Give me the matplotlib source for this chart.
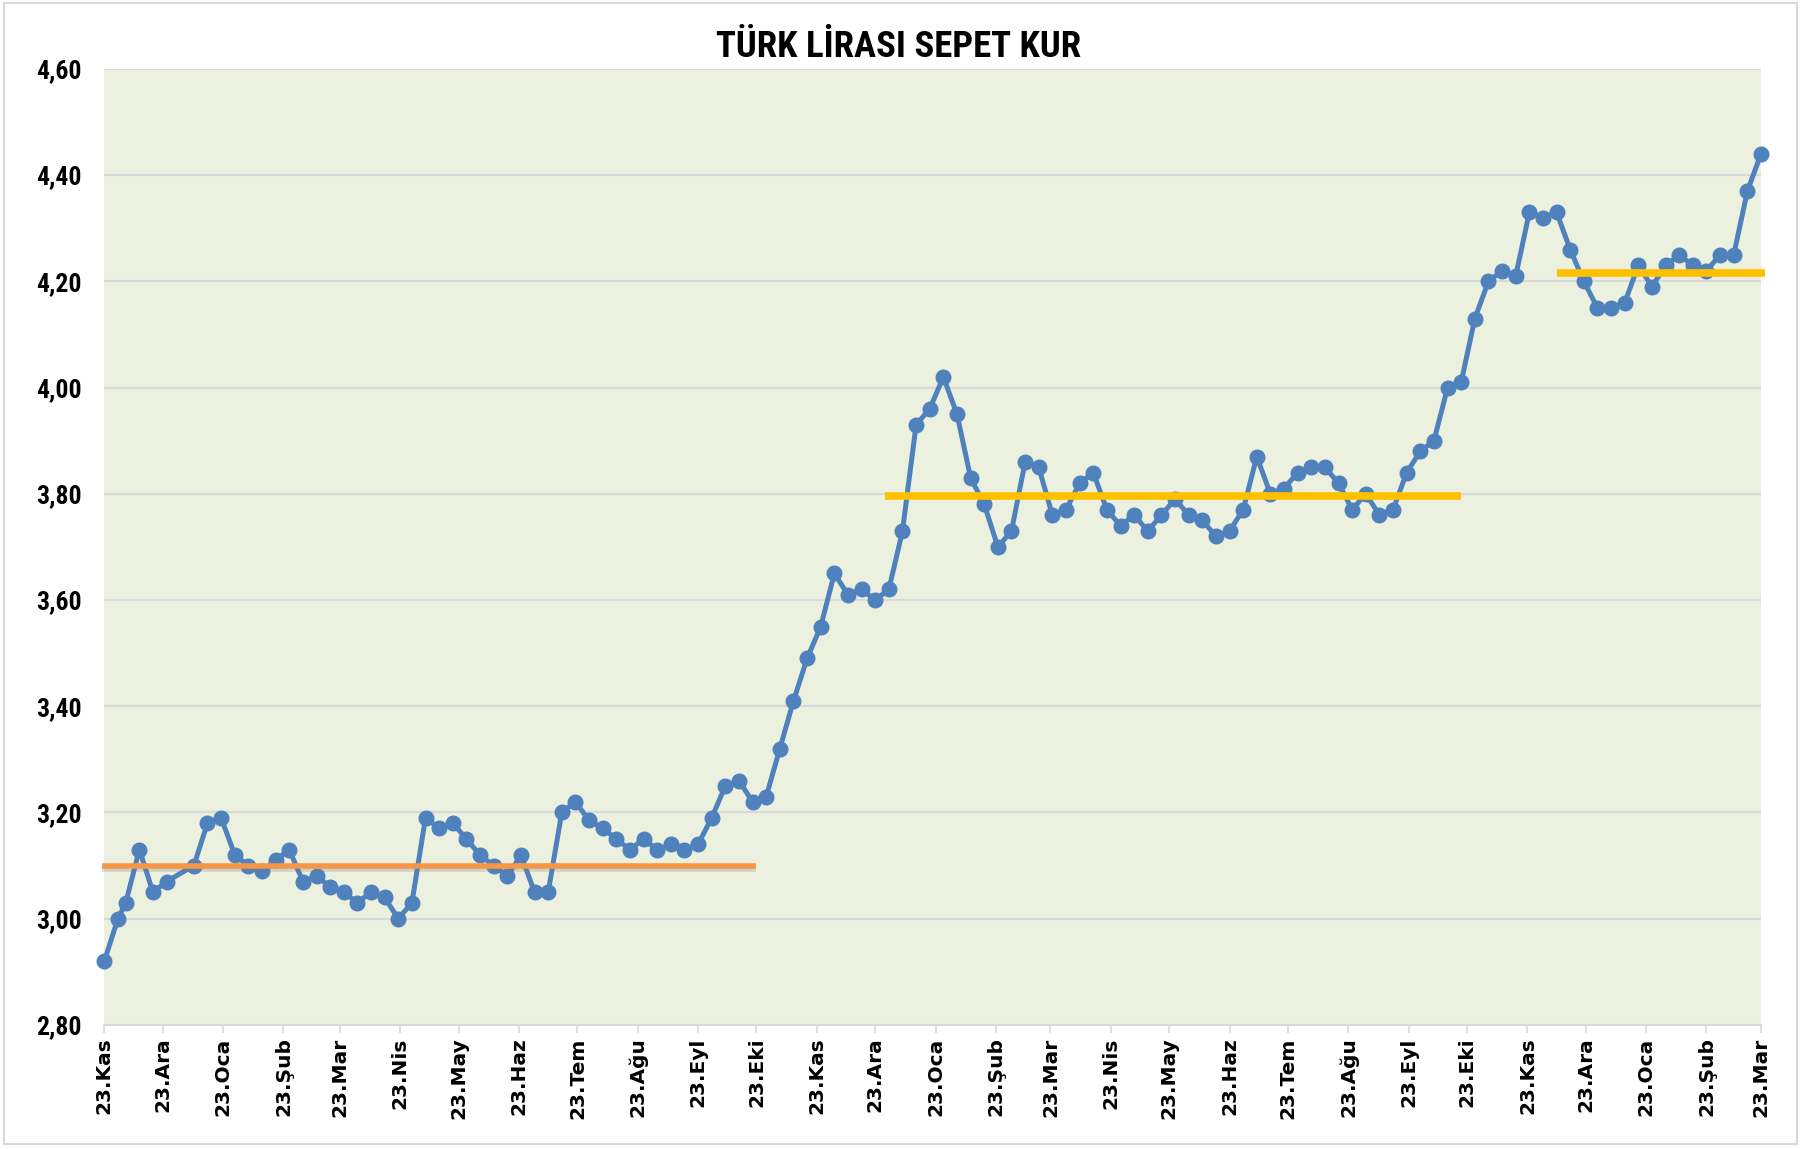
import numpy as np
import pandas as pd
import matplotlib
matplotlib.use("Agg")
import matplotlib.pyplot as plt
import matplotlib.patheffects as pe
from matplotlib.ticker import FuncFormatter, MultipleLocator
from matplotlib.patches import Rectangle
from matplotlib import font_manager

# --- weekly TL basket rate (two Mondays, then Fridays; 1 Jan 2016 missing)
first_days = ["2015-11-23", "2015-11-30"]
fridays = pd.date_range("2015-12-04", "2018-03-23", freq="W-FRI")
fridays = fridays[fridays != pd.Timestamp("2016-01-01")]
dates = pd.DatetimeIndex(pd.to_datetime(first_days)).append(fridays)

kur = [2.92, 3.00, 3.03, 3.13, 3.05, 3.07, 3.10, 3.18, 3.19, 3.12,
       3.10, 3.09, 3.11, 3.13, 3.07, 3.08, 3.06, 3.05, 3.03, 3.05,
       3.04, 3.00, 3.03, 3.19, 3.17, 3.18, 3.15, 3.12, 3.10, 3.08,
       3.12, 3.05, 3.05, 3.20, 3.22, 3.185, 3.17, 3.15, 3.13, 3.15,
       3.13, 3.14, 3.13, 3.14, 3.19, 3.25, 3.26, 3.22, 3.23, 3.32,
       3.41, 3.49, 3.55, 3.65, 3.61, 3.62, 3.60, 3.62, 3.73, 3.93,
       3.96, 4.02, 3.95, 3.83, 3.78, 3.70, 3.73, 3.86, 3.85, 3.76,
       3.77, 3.82, 3.84, 3.77, 3.74, 3.76, 3.73, 3.76, 3.79, 3.76,
       3.75, 3.72, 3.73, 3.77, 3.87, 3.80, 3.81, 3.84, 3.85, 3.85,
       3.82, 3.77, 3.80, 3.76, 3.77, 3.84, 3.88, 3.90, 4.00, 4.01,
       4.13, 4.20, 4.22, 4.21, 4.33, 4.32, 4.33, 4.26, 4.20, 4.15,
       4.15, 4.16, 4.23, 4.19, 4.23, 4.25, 4.23, 4.22, 4.25, 4.25,
       4.37, 4.44]

# --- period averages (horizontal bars)
ort_bas = ["2015-11-22", "2016-12-28", "2017-12-08"]
ort_bit = ["2016-10-23", "2017-10-20", "2018-03-25"]
ort_deger = [3.10, 3.795, 4.215]
ort_renk = ["#F79646", "#FFC000", "#FFC000"]

aylar = ["Oca", "Şub", "Mar", "Nis", "May", "Haz",
         "Tem", "Ağu", "Eyl", "Eki", "Kas", "Ara"]
tick_dates = pd.date_range("2015-11-23", "2018-03-23", freq=pd.DateOffset(months=1))
tick_labels = ["23." + aylar[d.month - 1] for d in tick_dates]

# narrow font for title / y labels if one is around
names = {f.name for f in font_manager.fontManager.ttflist}
narrow = "DejaVu Sans"
stretch = "normal"
for cand in ["Liberation Sans Narrow", "Roboto Condensed", "Open Sans Condensed"]:
    if cand in names:
        narrow = cand
        break
else:
    stretch = "condensed"

fig = plt.figure(figsize=(18.08, 11.49), dpi=100)
ax = fig.add_axes([0.0577, 0.108, 0.9163, 0.832])
ax.set_facecolor("#EBF1DE")

ax.plot(dates, kur, color="#4F81BD", lw=3.6, marker="o", ms=10.5,
        zorder=3, clip_on=False)

for b, s, v, c in zip(ort_bas, ort_bit, ort_deger, ort_renk):
    effects = [pe.Normal()]
    lw = 5.5
    if c == "#F79646":
        lw = 4
        effects = [pe.SimpleLineShadow(offset=(0, -2.5), shadow_color="#777777", alpha=0.25),
                   pe.Normal()]
    ax.plot([pd.Timestamp(b), pd.Timestamp(s)], [v, v], color=c, lw=lw,
            solid_capstyle="butt", zorder=4, clip_on=False, path_effects=effects)

ax.set_ylim(2.8, 4.6)
ax.yaxis.set_major_locator(MultipleLocator(0.2))
ax.yaxis.set_major_formatter(FuncFormatter(lambda v, p: f"{v:.2f}".replace(".", ",")))
ax.set_xlim(pd.Timestamp("2015-11-23"), pd.Timestamp("2018-03-23"))
ax.set_xticks(tick_dates)
ax.set_xticklabels(tick_labels, rotation=90, fontweight="bold", fontsize=14.5,
                   family="DejaVu Sans")
for t in ax.get_yticklabels():
    t.set_fontweight("bold")
    t.set_fontsize(18.5)
    t.set_family(narrow)
    t.set_fontstretch(stretch)

ax.grid(axis="y", color="#D9D9D9", lw=1.5)
ax.set_axisbelow(True)
for side in ["left", "right", "top"]:
    ax.spines[side].set_visible(False)
ax.spines["bottom"].set_color("#D9D9D9")
ax.spines["bottom"].set_linewidth(1.5)
ax.tick_params(axis="y", length=0, pad=16)
ax.tick_params(axis="x", length=6, width=1.2, color="#D9D9D9", pad=3)

fig.text(0.497, 0.959, "TÜRK LİRASI SEPET KUR", ha="center", va="center",
         fontsize=26.5, fontweight="bold", family=narrow, fontstretch=stretch)

fig.patches.append(Rectangle((0.002, 0.004), 0.992, 0.993, transform=fig.transFigure,
                             fill=False, edgecolor="#D9D9D9", lw=1.5))

fig.savefig("out.png", dpi=100)
